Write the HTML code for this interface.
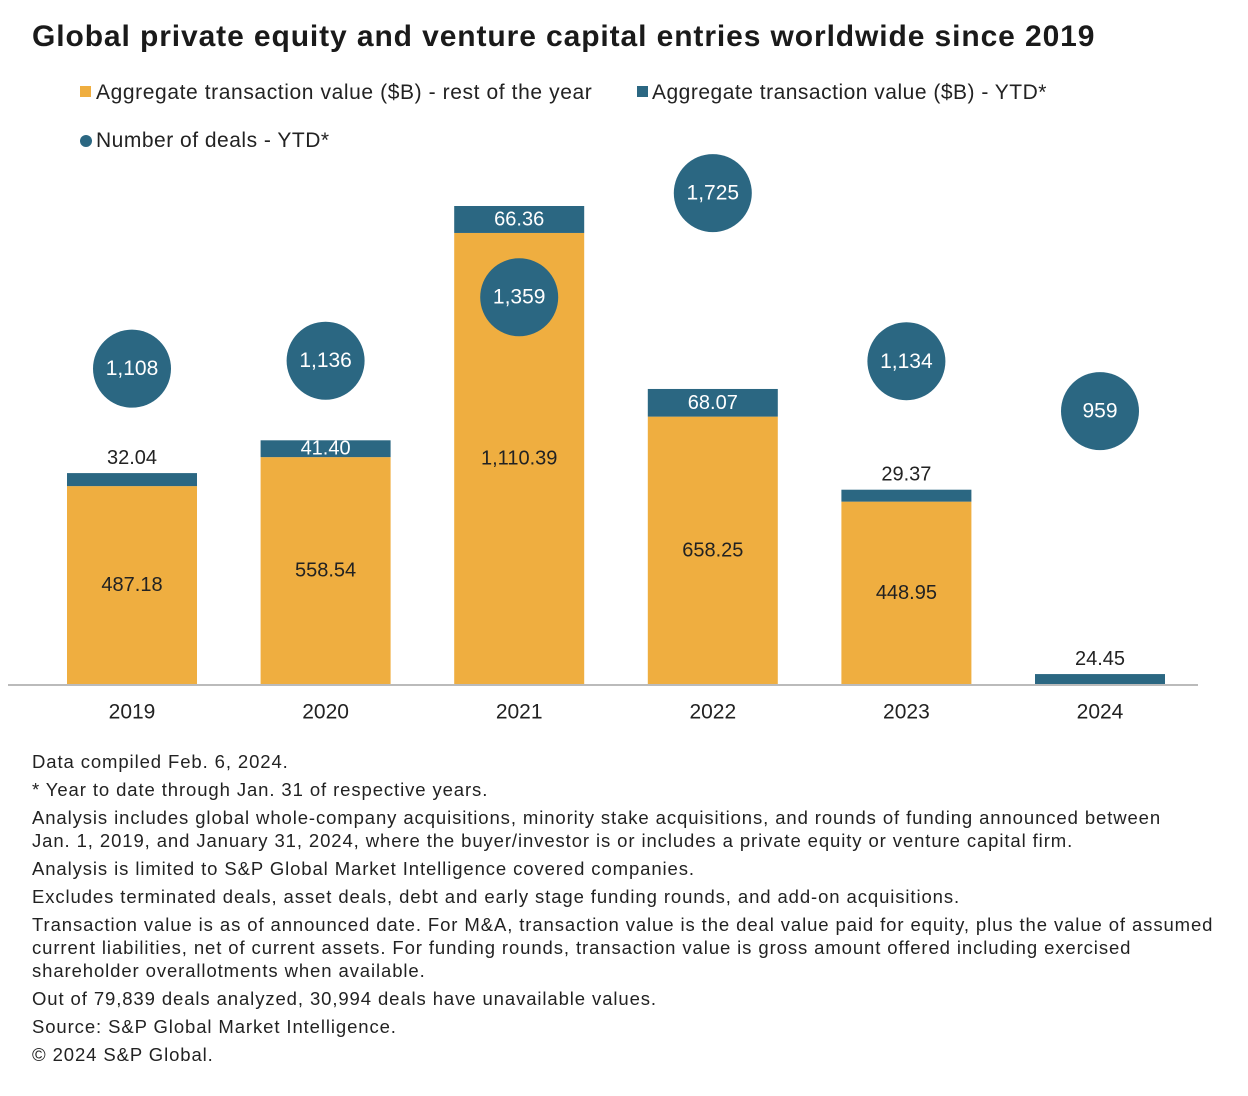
<!DOCTYPE html>
<html><head><meta charset="utf-8"><style>
body{margin:0;background:#fff;width:1248px;height:1096px;overflow:hidden;font-family:"Liberation Sans",sans-serif;color:#222}
.title{position:absolute;left:32px;top:20px;font-size:30px;font-weight:bold;letter-spacing:0.9px;color:#1a1a1a}
.notes{position:absolute;left:32px;top:750px;font-size:18.5px;line-height:23px;color:#222;width:1216px;letter-spacing:0.9px;word-spacing:0;white-space:nowrap}
.notes div{margin-bottom:5px}
</style></head><body>
<div class="title">Global private equity and venture capital entries worldwide since 2019</div>
<svg id="chart" width="1248" height="740" style="position:absolute;left:0;top:0"></svg>
<div class="notes">
<div>Data compiled Feb. 6, 2024.</div>
<div>* Year to date through Jan. 31 of respective years.</div>
<div>Analysis includes global whole-company acquisitions, minority stake acquisitions, and rounds of funding announced between<br>Jan. 1, 2019, and January 31, 2024, where the buyer/investor is or includes a private equity or venture capital firm.</div>
<div>Analysis is limited to S&amp;P Global Market Intelligence covered companies.</div>
<div>Excludes terminated deals, asset deals, debt and early stage funding rounds, and add-on acquisitions.</div>
<div>Transaction value is as of announced date. For M&amp;A, transaction value is the deal value paid for equity, plus the value of assumed<br>current liabilities, net of current assets. For funding rounds, transaction value is gross amount offered including exercised<br>shareholder overallotments when available.</div>
<div>Out of 79,839 deals analyzed, 30,994 deals have unavailable values.</div>
<div>Source: S&amp;P Global Market Intelligence.</div>
<div>© 2024 S&amp;P Global.</div>
</div>
<script>
const years=["2019","2020","2021","2022","2023","2024"];
const restValues=[487.18,558.54,1110.39,658.25,448.95,0];
const ytdValues=[32.04,41.40,66.36,68.07,29.37,24.45];
const dealCounts=[1108,1136,1359,1725,1134,959];
const NS="http://www.w3.org/2000/svg";
const svg=document.getElementById("chart");
const ORANGE="#EFAE40",BLUE="#2B6782";
const baseY=684,pxPerB=0.4062,pxPerDeal=0.2846;
const xC=i=>132+i*193.6;
const yV=v=>baseY-v*pxPerB;
const yD=d=>baseY-d*pxPerDeal;
function mk(tag,attrs,parent){const e=document.createElementNS(NS,tag);for(const k in attrs)e.setAttribute(k,attrs[k]);(parent||svg).appendChild(e);return e;}
function txt(x,y,s,fill,size){const t=mk("text",{x:x,y:y,"text-anchor":"middle","dominant-baseline":"central","font-size":size||20,fill:fill,"font-family":"Liberation Sans, sans-serif"});t.textContent=s;return t;}
let l;
l=mk("rect",{x:80,y:86,width:11,height:11,fill:ORANGE});


l=mk("text",{x:96,y:99,"font-size":21,fill:"#222","letter-spacing":"0.6"});l.textContent="Aggregate transaction value ($B) - rest of the year";


l=mk("rect",{x:637,y:86,width:11,height:11,fill:BLUE});


l=mk("text",{x:652,y:99,"font-size":21,fill:"#222","letter-spacing":"0.5"});l.textContent="Aggregate transaction value ($B) - YTD*";


l=mk("circle",{cx:86,cy:141,r:6,fill:BLUE});


l=mk("text",{x:96,y:147,"font-size":21,fill:"#222","letter-spacing":"0.5"});l.textContent="Number of deals - YTD*";


const ax=mk("line",{x1:8,x2:1198,y1:baseY+1,y2:baseY+1,stroke:"#bbb","stroke-width":2});


const W=130;
years.forEach((yr,i)=>{
  const x=xC(i)-W/2;
  const r=restValues[i],t=ytdValues[i];
  if(r>0){
    const b=mk("rect",{x:x,y:yV(r),width:W,height:baseY-yV(r),fill:ORANGE});
    
    
    const lb=txt(xC(i),(yV(r)+baseY)/2,restValues[i].toFixed(2).replace(/^(\d)(\d{3})/,"$1,$2"),"#222",20);
    
    
  }
  const top=yV(r+t),bot=yV(r);
  const b2=mk("rect",{x:x,y:top,width:W,height:bot-top,fill:BLUE});
  
  
  const h=bot-top;
  const lt=h>=16?txt(xC(i),(top+bot)/2,t.toFixed(2),"#fff",20):txt(xC(i),top-15,t.toFixed(2),"#222",20);
  
  
  const c=mk("circle",{cx:xC(i),cy:yD(dealCounts[i]),r:39,fill:BLUE});
  
  
  const ct=txt(xC(i),yD(dealCounts[i]),dealCounts[i].toLocaleString("en-US"),"#fff",21);
  
  
  const xt=txt(xC(i),712,yr,"#222",21);
  
  
});
</script>
</body></html>
